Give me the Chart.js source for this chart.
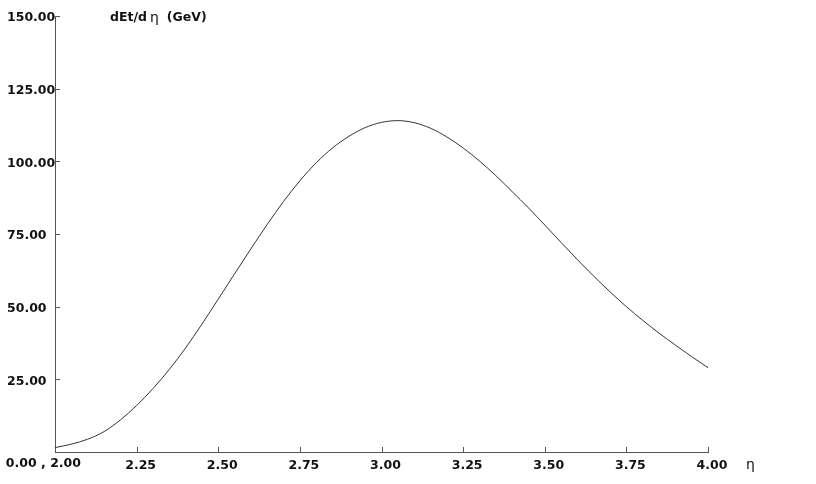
<!DOCTYPE html>
<html>
<head>
<meta charset="utf-8">
<script src="https://cdn.jsdelivr.net/npm/chart.js@4"></script>
<style>
  html, body { margin: 0; padding: 0; background: #fff; }
  #wrap { width: 816px; height: 484px; }
</style>
</head>
<body>
<div id="wrap"><canvas id="etChart" width="816" height="484"></canvas></div>
<script>
// pseudorapidity points and dEt/d eta
const etaValues = [2.00, 2.05, 2.10, 2.15, 2.20, 2.25, 2.30, 2.35, 2.40, 2.45,
                   2.50, 2.55, 2.60, 2.65, 2.70, 2.75, 2.80, 2.85, 2.90, 2.95,
                   3.00, 3.05, 3.10, 3.15, 3.20, 3.25, 3.30, 3.35, 3.40, 3.45,
                   3.50, 3.55, 3.60, 3.65, 3.70, 3.75, 3.80, 3.85, 3.90, 3.95, 4.00];
const dEtValues = [1.5, 2.7, 4.4, 7.0, 11.0, 16.0, 21.8, 28.4, 35.8, 44.0,
                   52.6, 61.3, 69.9, 78.3, 86.2, 93.3, 99.5, 104.6, 108.6, 111.6,
                   113.4, 114.0, 113.3, 111.4, 108.4, 104.6, 100.1, 95.1, 89.6, 84.0,
                   78.1, 72.1, 66.2, 60.5, 55.1, 50.0, 45.3, 40.9, 36.8, 32.8, 29.0];
const xTicks = [2.00, 2.25, 2.50, 2.75, 3.00, 3.25, 3.50, 3.75, 4.00];
const yTicks = [0, 25, 50, 75, 100, 125, 150];
const originLabel = '0.00 , 2.00';
const yTitle = ['dEt/d', 'η', '(GeV)'];
const xTitle = 'η';

const labelFont = 'bold 12.5px "DejaVu Sans"';
const axisColor = '#555555';

const points = etaValues.map((x, i) => ({ x: x, y: dEtValues[i] }));

// ticks inside the plot, origin label and axis titles
const decorations = {
  id: 'decorations',
  afterDraw(chart) {
    const ctx = chart.ctx;
    const xs = chart.scales.x, ys = chart.scales.y;
    const area = chart.chartArea;
    ctx.save();
    ctx.strokeStyle = axisColor;
    ctx.lineWidth = 1;
    ctx.beginPath();
    yTicks.forEach(v => {
      if (v === 0) return;
      const py = Math.round(ys.getPixelForValue(v)) + 0.5;
      ctx.moveTo(area.left, py);
      ctx.lineTo(area.left + 5, py);
    });
    xTicks.forEach(v => {
      if (v === 2.00) return;
      const px = Math.round(xs.getPixelForValue(v)) + 0.5;
      ctx.moveTo(px, area.bottom);
      ctx.lineTo(px, area.bottom - 5);
    });
    ctx.stroke();

    ctx.fillStyle = '#111';
    ctx.font = labelFont;
    ctx.textBaseline = 'middle';
    ctx.textAlign = 'right';
    ctx.fillText(originLabel, xs.getPixelForValue(2.00) + 26, area.bottom + 12);

    // y title
    ctx.textAlign = 'left';
    let tx = 110;
    const ty = 18;
    ctx.font = labelFont;
    ctx.fillText(yTitle[0], tx, ty);
    tx += ctx.measureText(yTitle[0]).width + 3;
    ctx.font = '14px "DejaVu Sans"';
    ctx.fillText(yTitle[1], tx, ty);
    tx += ctx.measureText(yTitle[1]).width + 8;
    ctx.font = labelFont;
    ctx.fillText(yTitle[2], tx, ty);

    // x title
    ctx.font = '14px "DejaVu Sans"';
    ctx.fillText(xTitle, 746, 465);
    ctx.restore();
  }
};

new Chart(document.getElementById('etChart'), {
  type: 'line',
  data: {
    datasets: [{
      data: points,
      borderColor: '#333333',
      borderWidth: 1,
      pointRadius: 0,
      fill: false,
      cubicInterpolationMode: 'monotone'
    }]
  },
  options: {
    responsive: false,
    animation: false,
    layout: { padding: { left: 7, right: 108, top: 16, bottom: 0 } },
    plugins: { legend: { display: false }, tooltip: { enabled: false } },
    scales: {
      x: {
        type: 'linear',
        min: 2, max: 4,
        afterBuildTicks: s => { s.ticks = xTicks.map(v => ({ value: v })); },
        afterFit: s => { s.height = 32; },
        grid: { display: false, tickLength: 0 },
        border: { color: axisColor, width: 1 },
        ticks: {
          color: '#111',
          font: { family: 'DejaVu Sans', size: 12.5, weight: 'bold' },
          padding: 6,
          labelOffset: 4,
          maxRotation: 0,
          autoSkip: false,
          callback: v => (v === 2 ? '' : v.toFixed(2))
        }
      },
      y: {
        min: 0, max: 150,
        afterBuildTicks: s => { s.ticks = yTicks.map(v => ({ value: v })); },
        afterFit: s => { s.width = 48; },
        grid: { display: false, tickLength: 0 },
        border: { color: axisColor, width: 1 },
        ticks: {
          color: '#111',
          font: { family: 'DejaVu Sans', size: 12.5, weight: 'bold' },
          crossAlign: 'far',
          labelOffset: 2,
          padding: 0,
          autoSkip: false,
          callback: v => (v === 0 ? '' : v.toFixed(2))
        }
      }
    }
  },
  plugins: [decorations]
});
</script>
</body>
</html>
